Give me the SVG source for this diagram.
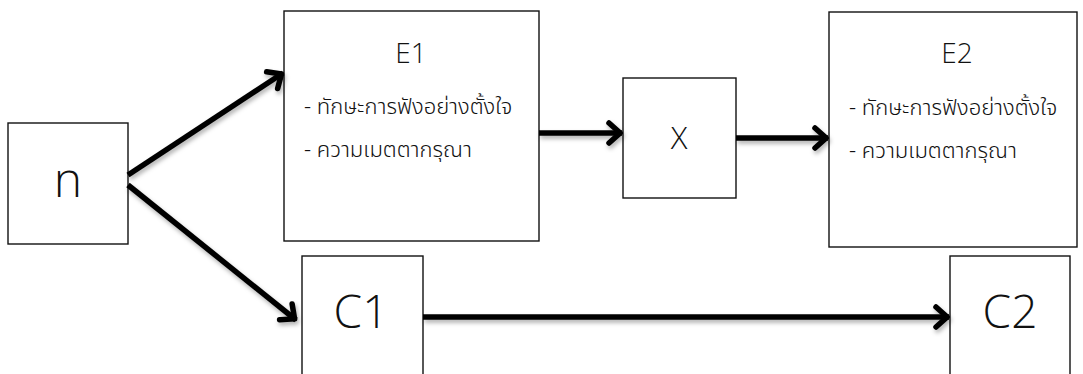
<svg xmlns="http://www.w3.org/2000/svg" width="1083" height="374" viewBox="0 0 1083 374">
  <style>
    .box { fill: #ffffff; stroke: #111111; stroke-width: 1.4; }
    .lbl { font-family: "Open Sans", "Noto Sans", "Noto Sans Thai", "DejaVu Sans", sans-serif; font-weight: 300; fill: #111111; text-anchor: middle; }
    .th { font-family: "Noto Sans Thai", "Noto Sans", "Open Sans", "DejaVu Sans", sans-serif; font-weight: 300; fill: #111111; font-size: 22px; }
    .conn { stroke: #000000; stroke-width: 5.5; fill: none; stroke-linecap: butt; marker-end: url(#arr); filter: url(#sh); }
  </style>
  <defs>
    <marker id="arr" markerUnits="userSpaceOnUse" viewBox="-18 -15 22 30" refX="0" refY="0" markerWidth="22" markerHeight="30" orient="auto" overflow="visible">
      <path d="M-13,-10 L-1.8,0 L-13,10" fill="none" stroke="#000000" stroke-width="5.5" stroke-linecap="round" stroke-linejoin="round"/>
    </marker>
    <filter id="sh" filterUnits="userSpaceOnUse" x="0" y="0" width="1083" height="374">
      <feDropShadow dx="1.5" dy="3" stdDeviation="2" flood-color="#000000" flood-opacity="0.3"/>
    </filter>
  </defs>
  <rect width="1083" height="374" fill="#ffffff"/>

  <g id="node-n">
    <rect class="box" x="8" y="123" width="120" height="121"/>
    <text class="lbl" x="68" y="197" font-size="48">n</text>
  </g>
  <g id="node-E1">
    <rect class="box" x="284" y="11" width="255" height="230"/>
    <text class="lbl" x="411" y="63" font-size="28">E1</text>
    <text class="th" x="304" y="114">- ทักษะการฟังอย่างตั้งใจ</text>
    <text class="th" x="304" y="157">- ความเมตตากรุณา</text>
  </g>
  <g id="node-X">
    <rect class="box" x="623" y="78" width="113" height="120"/>
    <text class="lbl" x="679" y="149" font-size="31">X</text>
  </g>
  <g id="node-E2">
    <rect class="box" x="829" y="12" width="248" height="235"/>
    <text class="lbl" x="957" y="63" font-size="28">E2</text>
    <text class="th" x="849" y="115">- ทักษะการฟังอย่างตั้งใจ</text>
    <text class="th" x="849" y="158">- ความเมตตากรุณา</text>
  </g>
  <g id="node-C1">
    <rect class="box" x="302" y="256" width="121" height="130"/>
    <text class="lbl" x="361" y="328" font-size="46">C1</text>
  </g>
  <g id="node-C2">
    <rect class="box" x="950" y="256" width="120" height="130"/>
    <text class="lbl" x="1010" y="328" font-size="46">C2</text>
  </g>

  <g id="connectors">
    <line class="conn" x1="128" y1="175" x2="283" y2="73"/>
    <line class="conn" x1="128" y1="185" x2="296" y2="320"/>
    <line class="conn" x1="539" y1="133" x2="622" y2="133"/>
    <line class="conn" x1="736" y1="138" x2="828" y2="138"/>
    <line class="conn" x1="423" y1="317" x2="949" y2="317"/>
  </g>
</svg>
